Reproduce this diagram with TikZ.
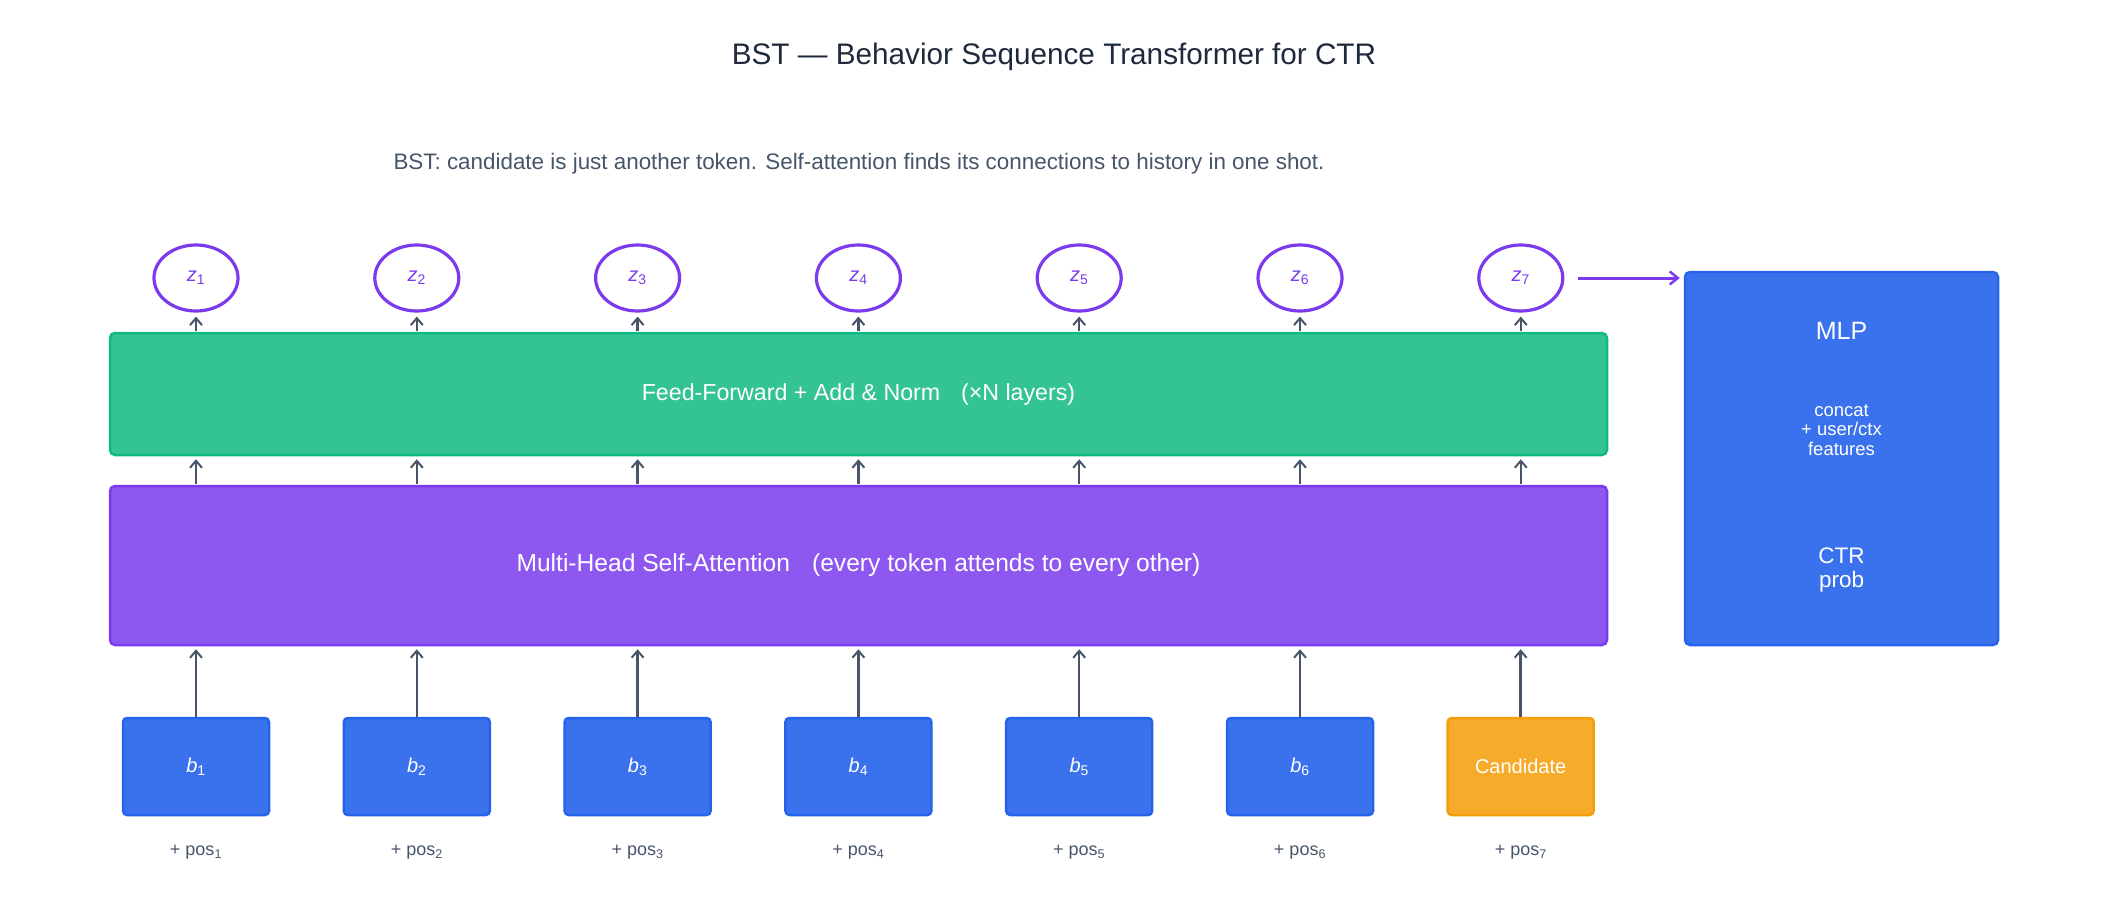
\documentclass[tikz,border=0pt]{standalone}
\usepackage{fontspec}
\setmainfont{Liberation Sans}
\usetikzlibrary{arrows.meta,shapes.geometric}
\definecolor{titlec}{HTML}{1E293B}
\definecolor{subc}{HTML}{475569}
\definecolor{arrc}{HTML}{475569}
\definecolor{grn}{HTML}{10B981}
\definecolor{purf}{HTML}{8E57F0}
\definecolor{purs}{HTML}{7C3AED}
\definecolor{blu}{HTML}{2563EB}
\definecolor{orn}{HTML}{F59E0B}
\begin{document}
\begin{tikzpicture}[x=1pt,y=1pt,
  fs/.style={font=\fontsize{#1}{#1}\selectfont},
  tok/.style={rectangle,rounded corners=4pt,line width=2.5pt,draw=blu,fill=blu,fill opacity=0.9,text opacity=1,
     minimum width=146pt,minimum height=97pt,inner sep=0pt,text=white,fs=20},
  cand/.style={tok,draw=orn,fill=orn,fill opacity=0.87},
  zout/.style={ellipse,draw=purs,line width=3.2pt,minimum width=84pt,minimum height=66pt,inner sep=0pt,text=purs,fs=20},
  layer/.style={rectangle,rounded corners=5pt,line width=2.5pt,minimum width=1497pt,inner sep=0pt,text=white,fill opacity=0.9,text opacity=1},
  arr/.style={draw=arrc,line width=2.3pt,-{Straight Barb[length=7pt,width=12pt,line width=2pt]}},
  parr/.style={draw=purs,line width=3pt,-{Straight Barb[length=8pt,width=13pt,line width=2.5pt]}},
  posl/.style={text=subc,fs=18}
]
\useasboundingbox (0,0) rectangle (2107,-923);
\node[text=titlec,fs=29.7] (title) at (1054,-57) {BST — Behavior Sequence Transformer for CTR};
\node[text=subc,fs=22.4] (sub) at (859,-164) {BST: candidate is just another token. Self-attention finds its connections to history in one shot.};

\node[layer,draw=grn,fill=grn,fill opacity=0.85,minimum height=122pt,fs=23.2] (ffn) at (858.5,-394)
  {\raisebox{-1pt}{Feed-Forward + Add \& Norm\hspace{0.9em}(×N layers)}};
\node[layer,draw=purs,fill=purf,fill opacity=1,minimum height=159pt,fs=24.6] (att) at (858.5,-565.5)
  {\raisebox{-1pt}{Multi-Head Self-Attention\hspace{0.9em}(every token attends to every other)}};

\node[rectangle,rounded corners=5pt,line width=2.5pt,draw=blu,fill=blu,fill opacity=0.9,minimum width=313pt,minimum height=373pt] (mlp) at (1841.5,-458.5) {};
\node[text=white,fs=25] (mlpt) at (1841.5,-331) {MLP};
\node[text=white,align=center,inner sep=0pt,font=\fontsize{18.5}{19.5}\selectfont] (mlpc) at (1841.5,-430) {concat\\+ user/ctx\\features};
\node[text=white,align=center,inner sep=0pt,font=\fontsize{22.5}{24}\selectfont] (mlpp) at (1841.5,-570) {CTR\\prob};

\foreach \i in {1,...,7}{
  \pgfmathsetmacro{\xx}{196+220.8*(\i-1)}
  \node[zout] (z\i) at (\xx,-278) {\textit{z}\textsubscript{\i}};
  \node[posl] (p\i) at (\xx,-852) {+ pos\textsubscript{\i}};
  \draw[arr] ([yshift=1pt]z\i.south |- ffn.north) -- ([yshift=-4pt]z\i.south);
  \draw[arr] ([yshift=1pt]z\i.south |- att.north) -- ([yshift=-3pt]z\i.south |- ffn.south);
}
\foreach \i in {1,...,6}{
  \pgfmathsetmacro{\xx}{196+220.8*(\i-1)}
  \node[tok] (b\i) at (\xx,-766.5) {\textit{b}\textsubscript{\i}};
}
\node[cand,fs=20] (b7) at (1520.6,-766.5) {Candidate};
\foreach \i in {1,...,7}{
  \draw[arr] (b\i.north) -- ([yshift=-3pt]b\i.north |- att.south);
}
\draw[parr] ([xshift=14pt]z7.east) -- ([xshift=-4pt]z7.east -| mlp.west);
\end{tikzpicture}
\end{document}
